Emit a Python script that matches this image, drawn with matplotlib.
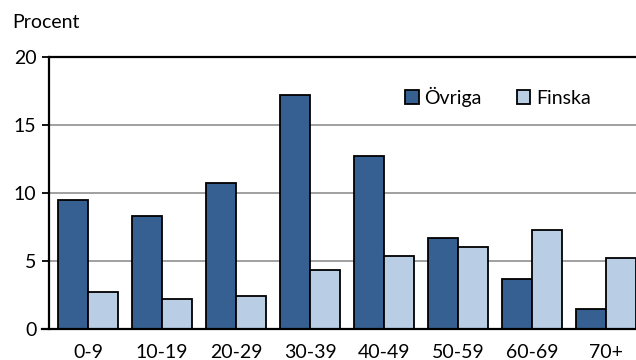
import matplotlib
matplotlib.use('Agg')
import matplotlib.pyplot as plt
import numpy as np

# age groups and shares (percent)
groups = ['0-9', '10-19', '20-29', '30-39', '40-49', '50-59', '60-69', '70+']
ovriga = [9.5, 8.3, 10.7, 17.2, 12.7, 6.7, 3.65, 1.45]
finska = [2.75, 2.2, 2.45, 4.35, 5.4, 6.0, 7.3, 5.25]
yticks = [0, 5, 10, 15, 20]

plt.rcParams['font.family'] = ['Lato', 'DejaVu Sans']

fig = plt.figure(figsize=(6.36, 3.6), dpi=100)
ax = fig.add_axes([49 / 636, 31 / 360, (636 - 49) / 636, 272 / 360])

x = np.arange(len(groups))
w = 30 / 74
ax.bar(x - w / 2, ovriga, w, color='#366092', edgecolor='black', linewidth=1.3,
       label='Övriga', zorder=3)
ax.bar(x + w / 2, finska, w, color='#B9CDE5', edgecolor='black', linewidth=1.3,
       label='Finska', zorder=3)

ax.set_xlim(-0.527, 7.405)
ax.set_ylim(0, 20)
ax.set_yticks(yticks)
ax.set_xticks(x)
ax.set_xticklabels(groups)
ax.tick_params(axis='y', length=5, width=1.3, labelsize=14, pad=4)
ax.tick_params(axis='x', length=0, labelsize=14, pad=11)

for v in yticks[1:-1]:
    ax.axhline(v, color='#999999', linewidth=1.3, zorder=1)
ax.axhline(20, color='black', linewidth=1.6, zorder=1, clip_on=False)

for s in ['top', 'right']:
    ax.spines[s].set_visible(False)
for s in ['left', 'bottom']:
    ax.spines[s].set_linewidth(1.6)
ax.spines['bottom'].set_bounds(-0.62, 7.405)
ax.spines['bottom'].set_zorder(4)

fig.text(12 / 636, 1 - 22 / 360, 'Procent', fontsize=14, va='center', ha='left')

ax.legend(loc='center left', bbox_to_anchor=(0.59, 0.855), ncol=2, frameon=False,
          fontsize=14, handlelength=0.7, handleheight=0.7, handletextpad=0.3,
          columnspacing=1.8, borderpad=0)

fig.savefig('out.png', dpi=100)
